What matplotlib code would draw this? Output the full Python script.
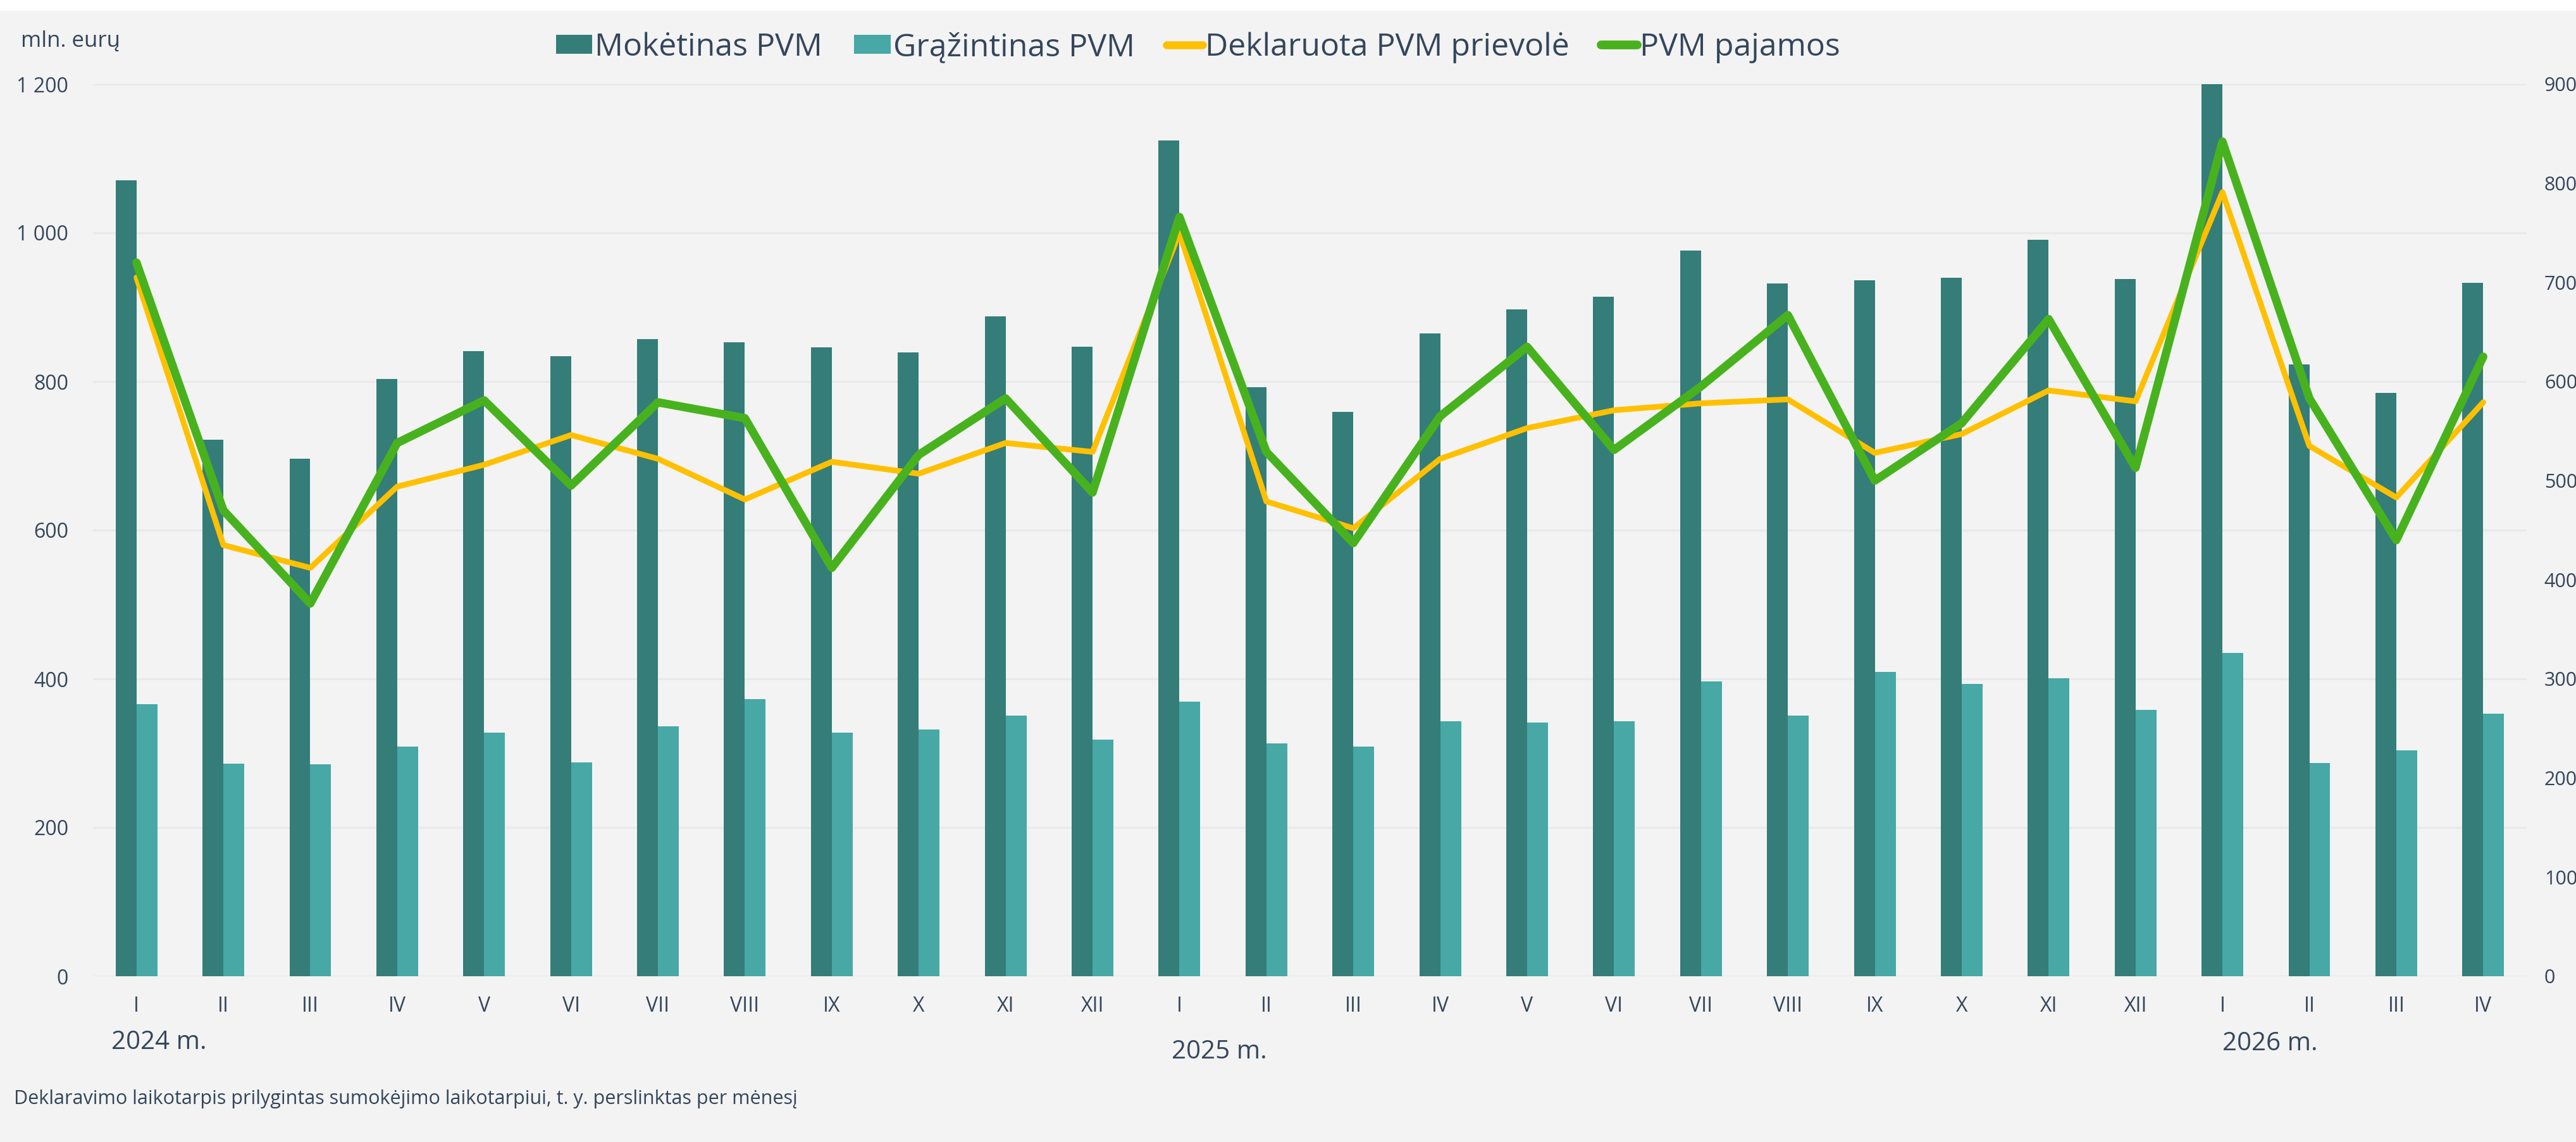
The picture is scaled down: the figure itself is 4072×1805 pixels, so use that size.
import matplotlib
matplotlib.use("Agg")
import matplotlib.pyplot as plt
from matplotlib.patches import Patch, Rectangle
from matplotlib.lines import Line2D
from matplotlib.ticker import FixedLocator, FuncFormatter
import matplotlib.transforms as mtransforms
import numpy as np

plt.rcParams['font.family'] = ['Open Sans', 'DejaVu Sans']

# ---------------- data ----------------
months = ['I', 'II', 'III', 'IV', 'V', 'VI', 'VII', 'VIII', 'IX', 'X', 'XI', 'XII',
          'I', 'II', 'III', 'IV', 'V', 'VI', 'VII', 'VIII', 'IX', 'X', 'XI', 'XII',
          'I', 'II', 'III', 'IV']
years = ['2024 m.', '2025 m.', '2026 m.']

moketinas = [1071, 722, 696, 803, 841, 834, 857, 853, 846, 839, 888, 847,
             1124, 792, 759, 865, 897, 914, 976, 932, 936, 940, 991, 938,
             1200, 823, 785, 933]
grazintinas = [366, 286, 285, 309, 328, 288, 336, 373, 328, 332, 351, 318,
               369, 313, 309, 343, 341, 343, 397, 351, 409, 393, 401, 358,
               435, 287, 304, 353]
deklaruota = [705, 435, 412, 494, 516, 546, 522, 481, 519, 507, 538, 529,
              750, 479, 452, 522, 553, 571, 578, 582, 528, 547, 591, 580,
              791, 535, 483, 579]
pajamos = [720, 470, 376, 538, 581, 495, 579, 563, 412, 526, 583, 488,
           766, 529, 437, 565, 635, 531, 595, 667, 500, 558, 663, 513,
           842, 583, 440, 625]

series_names = ['Mokėtinas PVM', 'Grąžintinas PVM', 'Deklaruota PVM prievolė', 'PVM pajamos']
left_ticks = [0, 200, 400, 600, 800, 1000, 1200]
right_ticks = [0, 100, 200, 300, 400, 500, 600, 700, 800, 900]

# ---------------- style ----------------
W, H = 4072, 1805
BG = '#F3F3F3'
TXT = '#34465C'
C_DARK = '#347D79'
C_LIGHT = '#47A8A6'
C_YEL = '#FFC000'
C_GRN = '#48B21E'
GRID = '#E9E9E9'

fig = plt.figure(figsize=(W / 100, H / 100), dpi=100, facecolor=BG)
# white strip at top
fig.patches.append(Rectangle((0, 1 - 17 / H), 1, 17 / H, transform=fig.transFigure,
                             facecolor='white', edgecolor='none', zorder=0))

L, R, T, B = 147, 3994, 133, 1543
ax = fig.add_axes([L / W, 1 - B / H, (R - L) / W, (B - T) / H])
ax.set_facecolor(BG)
ax2 = ax.twinx()

x = np.arange(len(months))
bw = 0.24
ax.bar(x - bw / 2, moketinas, width=bw, color=C_DARK, zorder=3, linewidth=0)
ax.bar(x + bw / 2, grazintinas, width=bw, color=C_LIGHT, zorder=3, linewidth=0)

ax2.plot(x, deklaruota, color=C_YEL, lw=6.5, solid_joinstyle='round',
         solid_capstyle='round', zorder=4)
ax2.plot(x, pajamos, color=C_GRN, lw=9.5, solid_joinstyle='round',
         solid_capstyle='round', zorder=5)

ax.set_xlim(-0.5, len(months) - 0.5)
ax.set_ylim(0, 1200)
ax2.set_ylim(0, 900)

ax.yaxis.set_major_locator(FixedLocator(left_ticks))
ax.yaxis.set_major_formatter(FuncFormatter(lambda v, p: f"{int(v):,}".replace(',', ' ')))
ax2.yaxis.set_major_locator(FixedLocator(right_ticks))
ax2.yaxis.set_major_formatter(FuncFormatter(lambda v, p: f"{int(v)}"))

ax.set_xticks(x)
ax.set_xticklabels(months)

ax.grid(axis='y', color=GRID, lw=2.2, zorder=0)
ax.set_axisbelow(True)
for a in (ax, ax2):
    for s in a.spines.values():
        s.set_visible(False)

ax.tick_params(axis='y', length=0, pad=28, labelsize=23, labelcolor=TXT)
ax.tick_params(axis='x', length=0, pad=22, labelsize=23, labelcolor=TXT)
ax2.tick_params(axis='y', length=0, pad=20, labelsize=22, labelcolor=TXT)

# year labels under the month labels
trans = mtransforms.blended_transform_factory(ax.transData, fig.transFigure)
year_x = [0.26, 12.46, 24.55]
year_y = [1648, 1663, 1650]
for yl, xx, yy in zip(years, year_x, year_y):
    fig.text(xx, 1 - yy / H, yl, transform=trans, ha='center', va='center',
             fontsize=29, color=TXT)

# axis unit label
fig.text(33 / W, 1 - 74 / H, 'mln. eurų', ha='left', va='baseline', fontsize=25, color=TXT)

# footnote
fig.text(22 / W, 1 - 1737 / H,
         'Deklaravimo laikotarpis prilygintas sumokėjimo laikotarpiui, t. y. perslinktas per mėnesį',
         ha='left', va='center', fontsize=22, color=TXT)

# legend
handles = [Patch(facecolor=C_DARK, edgecolor='none'),
           Patch(facecolor=C_LIGHT, edgecolor='none'),
           Line2D([], [], color=C_YEL, lw=9, solid_capstyle='round'),
           Line2D([], [], color=C_GRN, lw=10, solid_capstyle='round')]
leg = fig.legend(handles, series_names, ncol=4, loc='center',
                 bbox_to_anchor=(1894 / W, 1 - 75 / H), frameon=False,
                 fontsize=36, handlelength=1.15, handleheight=0.55,
                 handletextpad=0.08, columnspacing=1.0, labelcolor=TXT,
                 borderaxespad=0, borderpad=0)

fig.savefig('out.png', dpi=100, facecolor=BG)
